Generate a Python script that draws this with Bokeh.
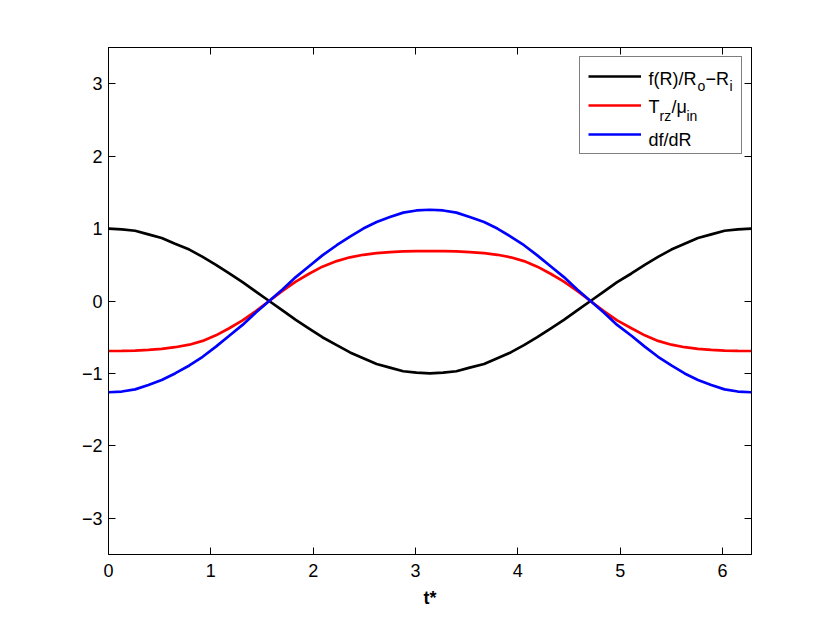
from bokeh.plotting import figure
from bokeh.models import Range1d, LinearAxis, Legend, LegendItem, Label, FixedTicker
from bokeh.embed import file_html
from bokeh.resources import INLINE

# ---- data ----
t_star = [0.00, 0.13, 0.26, 0.39, 0.52, 0.65, 0.79, 0.92, 1.05, 1.18, 1.31, 1.44,
          1.57, 1.70, 1.83, 1.96, 2.09, 2.23, 2.36, 2.49, 2.62, 2.75, 2.88, 3.01,
          3.14, 3.27, 3.40, 3.53, 3.67, 3.80, 3.93, 4.06, 4.19, 4.32, 4.45, 4.58,
          4.71, 4.84, 4.97, 5.11, 5.24, 5.37, 5.50, 5.63, 5.76, 5.89, 6.02, 6.15, 6.28]

f_ratio = [1.00, 0.99, 0.97, 0.92, 0.87, 0.79, 0.71, 0.61, 0.50, 0.38, 0.26, 0.13,
           0.00, -0.13, -0.26, -0.38, -0.50, -0.61, -0.71, -0.79, -0.87, -0.92, -0.97, -0.99,
           -1.00, -0.99, -0.97, -0.92, -0.87, -0.79, -0.71, -0.61, -0.50, -0.38, -0.26, -0.13,
           0.00, 0.13, 0.26, 0.38, 0.50, 0.61, 0.71, 0.79, 0.87, 0.92, 0.97, 0.99, 1.00]

t_rz = [-0.690, -0.688, -0.684, -0.676, -0.662, -0.638, -0.603, -0.551, -0.474, -0.376, -0.268, -0.140,
        0.000, 0.140, 0.268, 0.376, 0.474, 0.551, 0.603, 0.638, 0.662, 0.676, 0.684, 0.688,
        0.690, 0.688, 0.684, 0.676, 0.662, 0.638, 0.603, 0.551, 0.474, 0.376, 0.268, 0.140,
        0.000, -0.140, -0.268, -0.376, -0.474, -0.551, -0.603, -0.638, -0.662, -0.676, -0.684, -0.688, -0.690]

df_dr = [-1.26, -1.25, -1.22, -1.16, -1.09, -1.00, -0.89, -0.77, -0.63, -0.48, -0.33, -0.16,
         0.00, 0.16, 0.33, 0.48, 0.63, 0.77, 0.89, 1.00, 1.09, 1.16, 1.22, 1.25,
         1.26, 1.25, 1.22, 1.16, 1.09, 1.00, 0.89, 0.77, 0.63, 0.48, 0.33, 0.16,
         0.00, -0.16, -0.33, -0.48, -0.63, -0.77, -0.89, -1.00, -1.09, -1.16, -1.22, -1.25, -1.26]

x_ticks = [0, 1, 2, 3, 4, 5, 6]
y_ticks = [-3, -2, -1, 0, 1, 2, 3]
y_tick_labels = {-3: "\u22123", -2: "\u22122", -1: "\u22121", 0: "0", 1: "1", 2: "2", 3: "3"}
x_limits = (0.0, 6.2832)
y_limits = (-3.5, 3.5)

FONT = "Liberation Sans"

p = figure(frame_width=643, frame_height=507,
           x_range=Range1d(*x_limits), y_range=Range1d(*y_limits),
           output_backend="svg", toolbar_location=None,
           min_border_left=108, min_border_right=70, min_border_top=47, min_border_bottom=66,
           background_fill_color="white", border_fill_color="white",
           outline_line_color="black", outline_line_width=1)
p.grid.visible = False

r_black = p.line(t_star, f_ratio, line_color="#000000", line_width=2.7)
r_red = p.line(t_star, t_rz, line_color="#ff0000", line_width=2.7)
r_blue = p.line(t_star, df_dr, line_color="#0000ff", line_width=2.7)

def style_axis(ax, ticks, show_labels):
    ax.ticker = FixedTicker(ticks=ticks)
    ax.minor_tick_line_color = None
    ax.major_tick_in = 7
    ax.major_tick_out = 0
    ax.major_tick_line_color = "black"
    ax.axis_line_color = "black"
    ax.major_label_text_font = FONT
    ax.major_label_text_font_size = "18px"
    ax.major_label_text_color = "black" if show_labels else None

style_axis(p.xaxis[0], x_ticks, True)
style_axis(p.yaxis[0], y_ticks, True)
p.xaxis[0].major_label_standoff = 9
p.yaxis[0].major_label_standoff = 6
p.yaxis[0].major_label_overrides = y_tick_labels
p.xaxis[0].axis_label = "t*"
p.xaxis[0].axis_label_text_font = FONT
p.xaxis[0].axis_label_text_font_size = "18px"
p.xaxis[0].axis_label_text_font_style = "bold"
p.xaxis[0].axis_label_text_color = "black"
p.xaxis[0].axis_label_standoff = 8

ax_r = LinearAxis()
style_axis(ax_r, y_ticks, False)
ax_r.major_label_text_font_size = "1px"
p.add_layout(ax_r, "right")
ax_t = LinearAxis()
style_axis(ax_t, x_ticks, False)
ax_t.major_label_text_font_size = "1px"
p.add_layout(ax_t, "above")

# legend texts with sub-scripts, anchored to the top-right corner of the frame
xa, ya = x_limits[1], y_limits[1]
pieces = [
    ("f(R)/R", -103, -31, "18px"), ("o", -54, -38, "14px"), ("\u2212R", -46, -31, "18px"), ("i", -22, -38, "14px"),
    ("T", -103, -59, "18px"), ("rz", -92, -68, "14px"), ("/\u03bc", -80, -59, "18px"), ("in", -65, -68, "14px"),
    ("df/dR", -103, -92, "18px"),
]
for txt, dx, dy, fs in pieces:
    p.add_layout(Label(x=xa, y=ya, x_offset=dx, y_offset=dy, text=txt,
                       text_font=FONT, text_font_size=fs, text_color="black",
                       text_align="left", text_baseline="alphabetic"))

legend = Legend(items=[LegendItem(label=" ", renderers=[r_black]),
                       LegendItem(label=" ", renderers=[r_red]),
                       LegendItem(label=" ", renderers=[r_blue])],
                location="top_right", margin=9, padding=8, spacing=7,
                glyph_width=53, glyph_height=22, label_height=22, label_width=86,
                label_standoff=6, border_line_color="black", border_line_width=1,
                background_fill_alpha=0,
                label_text_font=FONT, label_text_font_size="18px")
p.add_layout(legend)

open("out.html", "w").write(file_html(p, INLINE))
